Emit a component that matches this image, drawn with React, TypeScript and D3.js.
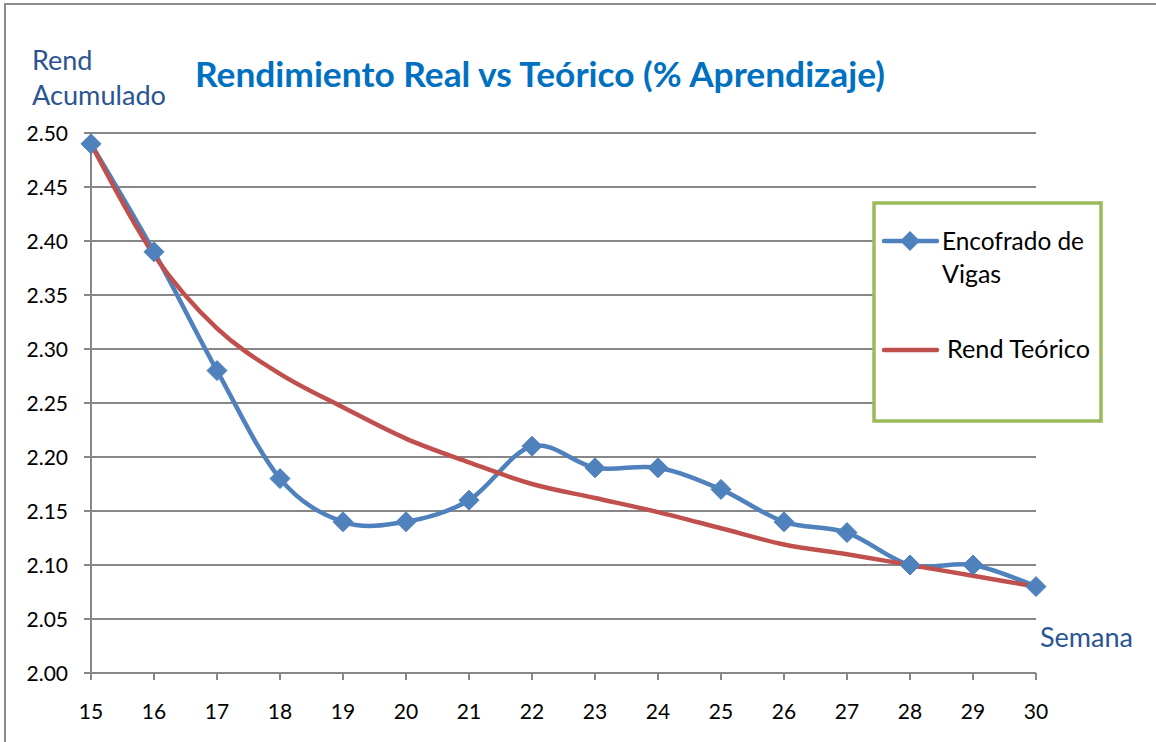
import React from "react";
import * as d3 from "d3";

const weeks = [15, 16, 17, 18, 19, 20, 21, 22, 23, 24, 25, 26, 27, 28, 29, 30];
const encofradoVigas = [2.49, 2.39, 2.28, 2.18, 2.14, 2.14, 2.16, 2.21, 2.19, 2.19, 2.17, 2.14, 2.13, 2.10, 2.10, 2.08];
const rendTeorico = [2.49, 2.387, 2.319, 2.277, 2.246, 2.217, 2.195, 2.175, 2.162, 2.149, 2.134, 2.119, 2.110, 2.100, 2.090, 2.080];
const yTicks = [2.0, 2.05, 2.1, 2.15, 2.2, 2.25, 2.3, 2.35, 2.4, 2.45, 2.5];

const W = 1156;
const H = 742;
const FONT = "Lato, 'Open Sans', sans-serif";

export default function App() {
  const x = d3.scaleLinear().domain([15, 30]).range([91, 1036]);
  const y = d3.scaleLinear().domain([2.0, 2.5]).range([673, 133]);

  const line = d3
    .line<number>()
    .x((_, i) => x(weeks[i]))
    .y((d) => y(d))
    .curve(d3.curveCardinal.tension(0));

  const blue = "#4F81BD";
  const red = "#C0504D";
  const grid = "#878787";

  const diamond = (cx: number, cy: number, r: number) =>
    `M${cx},${cy - r}L${cx + r},${cy}L${cx},${cy + r}L${cx - r},${cy}Z`;

  return (
    <svg
      width={W}
      height={H}
      style={{ position: "absolute", left: 0, top: 0, background: "#fff" }}
      fontFamily={FONT}
    >
      <rect x={5} y={4} width={W + 10} height={H + 10} fill="#fff" stroke="#8c8c8c" strokeWidth={2} />

      {/* gridlines */}
      {yTicks.map((t) => (
        <g key={t}>
          <line x1={84} x2={1036} y1={y(t)} y2={y(t)} stroke={grid} strokeWidth={2} />
          <text x={68} y={y(t) + 7.5} textAnchor="end" fontSize={21} fill="#000">
            {t.toFixed(2)}
          </text>
        </g>
      ))}
      {/* y axis */}
      <line x1={91} x2={91} y1={y(2.5)} y2={y(2.0)} stroke={grid} strokeWidth={2} />
      {/* x ticks */}
      {weeks.map((w) => (
        <g key={w}>
          <line x1={x(w)} x2={x(w)} y1={y(2.0)} y2={y(2.0) + 7} stroke={grid} strokeWidth={2} />
          <text x={x(w)} y={719} textAnchor="middle" fontSize={21} fill="#000">
            {w}
          </text>
        </g>
      ))}

      {/* series */}
      <path d={line(encofradoVigas) || ""} fill="none" stroke={blue} strokeWidth={4.5} strokeLinejoin="round" />
      <path d={line(rendTeorico) || ""} fill="none" stroke={red} strokeWidth={4.5} strokeLinejoin="round" />
      {encofradoVigas.map((v, i) => (
        <path key={i} d={diamond(x(weeks[i]), y(v), 10)} fill={blue} stroke={blue} strokeWidth={1} />
      ))}

      {/* titles */}
      <text x={195} y={87} fontSize={34} fontWeight="bold" fill="#0070C0" textLength={690} lengthAdjust="spacingAndGlyphs">
        Rendimiento Real vs Teórico (% Aprendizaje)
      </text>
      <text x={32} y={70} fontSize={27} fill="#2A5592">Rend</text>
      <text x={32} y={105} fontSize={27} fill="#2A5592" textLength={134} lengthAdjust="spacingAndGlyphs">Acumulado</text>
      <text x={1040} y={647} fontSize={27} fill="#2A5592" textLength={93} lengthAdjust="spacingAndGlyphs">Semana</text>

      {/* legend */}
      <rect x={874} y={203} width={227} height={218} fill="#fff" stroke="#9BBB59" strokeWidth={3.5} />
      <line x1={884} x2={937} y1={241} y2={241} stroke={blue} strokeWidth={4.5} strokeLinecap="round" />
      <path d={diamond(910, 241, 10)} fill={blue} />
      <text x={942} y={250} fontSize={25} fill="#000" textLength={142} lengthAdjust="spacingAndGlyphs">Encofrado de</text>
      <text x={942} y={283} fontSize={25} fill="#000">Vigas</text>
      <line x1={884} x2={937} y1={350} y2={350} stroke={red} strokeWidth={4.5} strokeLinecap="round" />
      <text x={947} y={358} fontSize={25} fill="#000" textLength={143} lengthAdjust="spacingAndGlyphs">Rend Teórico</text>
    </svg>
  );
}
